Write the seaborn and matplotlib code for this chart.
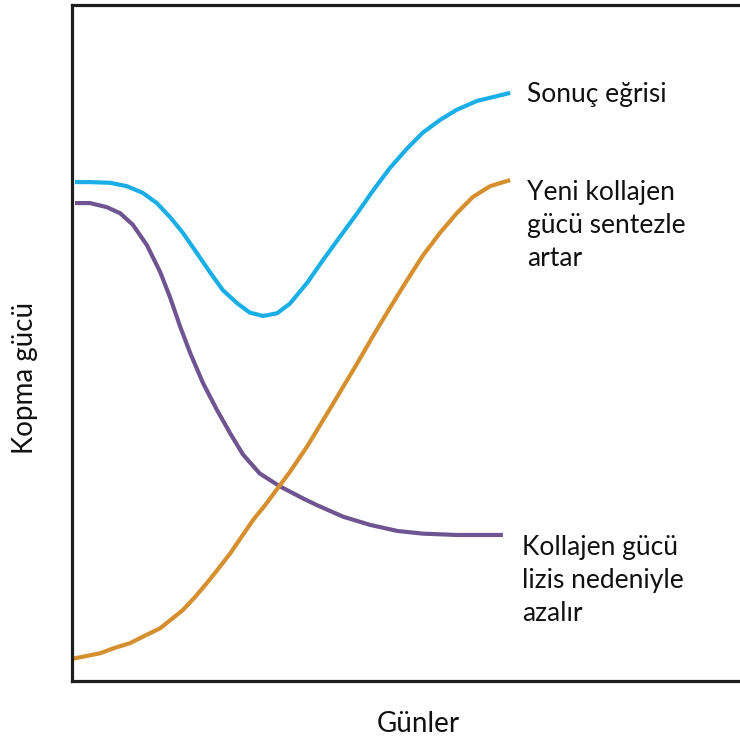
#!/usr/bin/env python3
"""Wound breaking strength over days: lysis vs. synthesis of collagen."""

import matplotlib

matplotlib.use("Agg")
import matplotlib.pyplot as plt
import pandas as pd
import seaborn as sns

# values (arbitrary units, 0-100 on both axes)
result_days = [0.45, 2.7, 5.7, 8.2, 10.6, 12.7, 14.7, 16.6, 18.7, 20.7,
               22.6, 24.7, 26.6, 28.6, 30.7, 32.6, 35.2, 37.6, 40.1, 42.7,
               45.1, 47.6, 50.1, 52.5, 55.1, 57.6, 60.6, 65.6]
result_strength = [73.8, 73.8, 73.7, 73.2, 72.2, 70.7, 68.6, 66.3, 63.3, 60.4,
                   57.8, 55.9, 54.5, 54.0, 54.4, 55.8, 58.9, 62.3, 65.7, 69.2,
                   72.6, 75.9, 78.7, 81.1, 83.0, 84.5, 85.8, 87.0]

lysis_days = [0.45, 2.7, 5.2, 7.2, 9.1, 11.2, 13.2, 14.7, 16.2, 17.7,
              19.6, 21.7, 23.7, 25.6, 28.1, 31.1, 34.6, 36.7, 40.6, 44.6,
              48.7, 52.5, 57.6, 64.5]
lysis_strength = [70.7, 70.7, 70.1, 69.2, 67.5, 64.5, 60.5, 56.7, 52.4, 48.5,
                  44.1, 40.1, 36.6, 33.5, 30.7, 28.8, 27.0, 26.0, 24.3, 23.1,
                  22.2, 21.8, 21.6, 21.6]

synth_days = [0.15, 4.2, 6.4, 8.7, 10.9, 13.2, 16.6, 18.4, 20.2, 21.9,
              23.7, 25.5, 27.1, 28.9, 30.7, 32.6, 35.2, 37.6, 40.1, 42.7,
              45.1, 47.6, 50.1, 52.5, 55.1, 57.6, 60.0, 62.6, 65.6]
synth_strength = [3.3, 4.1, 4.9, 5.6, 6.7, 7.8, 10.5, 12.4, 14.5, 16.6,
                  18.9, 21.5, 23.8, 26.0, 28.4, 30.9, 34.7, 38.6, 42.7, 47.0,
                  51.1, 55.2, 59.2, 62.9, 66.3, 69.2, 71.6, 73.2, 74.1]

series_labels = {
    "result": "Sonuç eğrisi",
    "synth": "Yeni kollajen\ngücü sentezle\nartar",
    "lysis": "Kollajen gücü\nlizis nedeniyle\nazalır",
}
colors = {"result": "#1aaee6", "lysis": "#6e5592", "synth": "#d58f2e"}

frame = pd.concat(
    [
        pd.DataFrame({"day": result_days, "strength": result_strength, "series": "result"}),
        pd.DataFrame({"day": lysis_days, "strength": lysis_strength, "series": "lysis"}),
        pd.DataFrame({"day": synth_days, "strength": synth_strength, "series": "synth"}),
    ],
    ignore_index=True,
)

sns.set_style("white")
plt.rcParams["font.family"] = ["Lato", "DejaVu Sans"]

fig = plt.figure(figsize=(7.4, 7.4), dpi=100)
ax = fig.add_axes([72 / 740, 59 / 740, 668 / 740, 676 / 740])

sns.lineplot(
    data=frame,
    x="day",
    y="strength",
    hue="series",
    palette=colors,
    sort=False,
    estimator=None,
    linewidth=3.0,
    legend=False,
    solid_joinstyle="round",
    solid_capstyle="butt",
    ax=ax,
)

ax.set_xlim(0, 100)
ax.set_ylim(0, 100)
ax.set_xticks([])
ax.set_yticks([])
for side in ("left", "bottom", "top"):
    ax.spines[side].set_color("#1e1e1e")
    ax.spines[side].set_linewidth(2.3)
ax.spines["right"].set_visible(False)

ax.set_xlabel("Günler", fontsize=20, color="#111111")
ax.set_ylabel("Kopma gücü", fontsize=20, color="#111111")
ax.xaxis.set_label_coords(0.518, -0.045)
ax.yaxis.set_label_coords(-0.051, 0.448)

text_kw = dict(fontsize=19, color="#111111", ha="left", va="center", linespacing=1.4)
ax.text(68.1, 86.7, series_labels["result"], **text_kw)
ax.text(68.1, 67.4, series_labels["synth"], **text_kw)
ax.text(67.4, 14.9, series_labels["lysis"], **text_kw)

fig.savefig("out.png", dpi=100)
plt.close(fig)
